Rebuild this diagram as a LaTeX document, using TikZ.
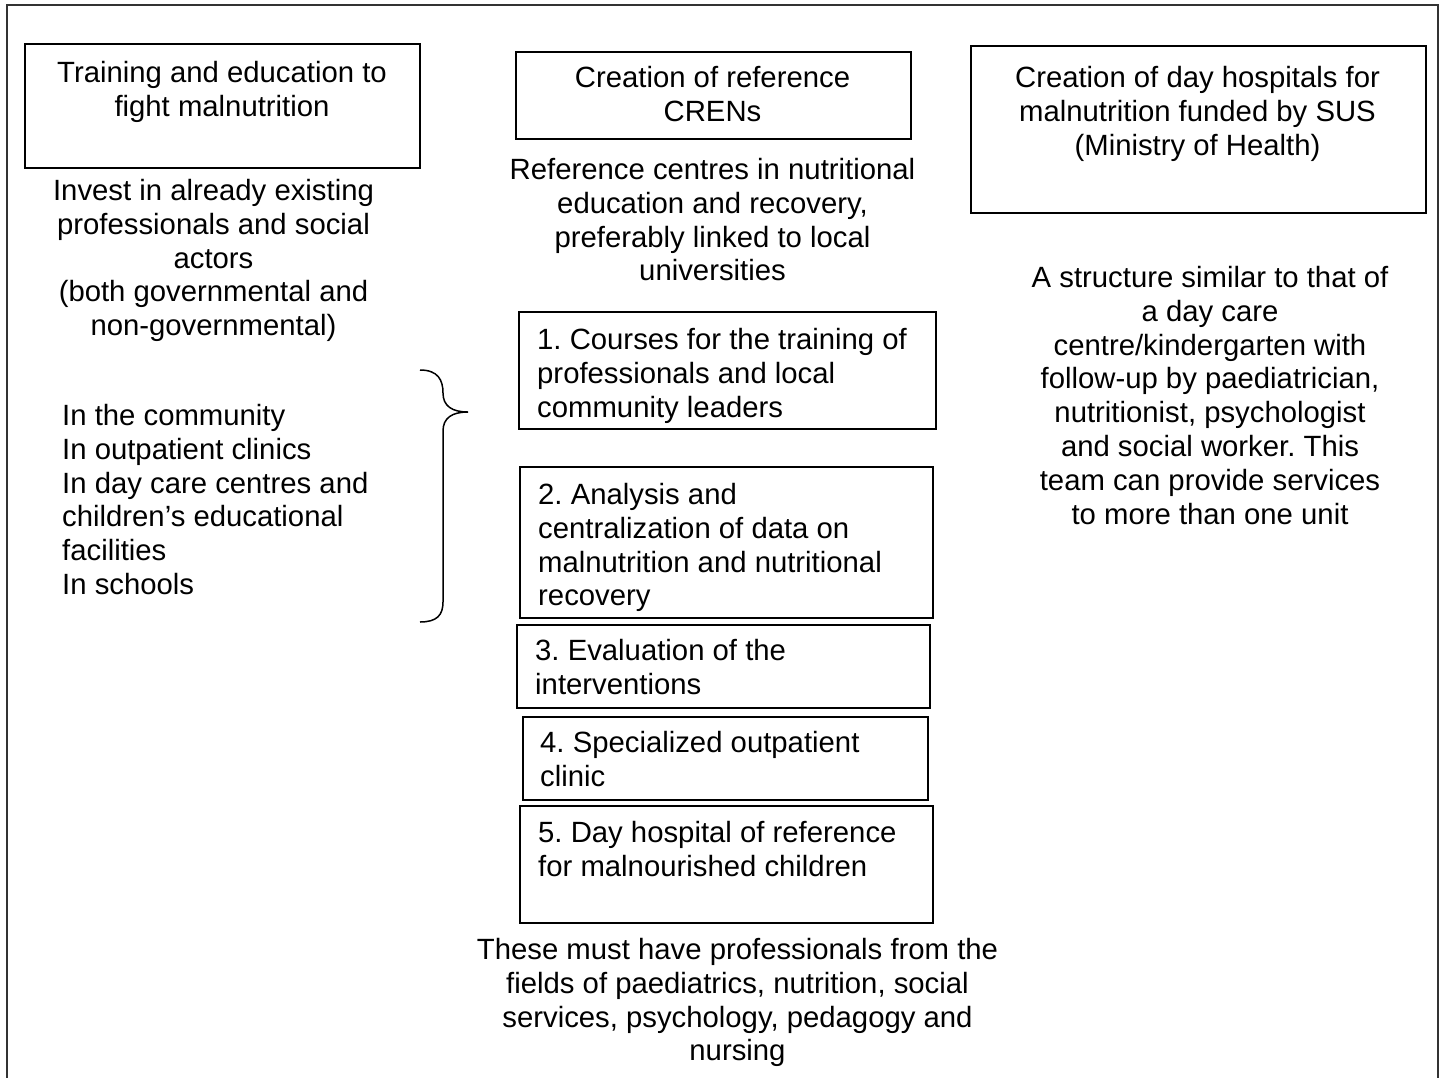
\documentclass[tikz,border=0pt]{standalone}
\usepackage{fontspec}
\setmainfont{Liberation Sans}
\frenchspacing
\begin{document}
\begin{tikzpicture}[x=1pt,y=-1pt,
  txt/.style={inner sep=0pt, font=\fontsize{29.3}{33.8}\selectfont,
              execute at begin node={\rule{0pt}{22pt}}},
  ctr/.style={txt, align=center, anchor=north},
  lft/.style={txt, align=left, anchor=north west},
  box/.style={draw=black, line width=1.6pt, rectangle, anchor=north west, inner sep=0pt},
  frame/.style={draw=black!80, line width=2pt},
  brace/.style={draw=black, line width=1.5pt}
]
\useasboundingbox (0,0) rectangle (1441,1077);

% open outer frame
\begin{scope}
  \clip (0,0) rectangle (1441,1077);
  \draw[frame] (7,1090) -- (7,5) -- (1438,5) -- (1438,1090);
\end{scope}

% ---- left column ----
\node[box, minimum width=395pt, minimum height=124pt] (boxA) at (24,43) {};
\node[ctr] (tA) at (222,61) {Training and education to\\fight malnutrition};
\node[ctr] (invest) at (213.5,179) {Invest in already existing\\professionals and social\\actors\\(both governmental and\\non-governmental)};
\node[lft] (places) at (62,404) {In the community\\In outpatient clinics\\In day care centres and\\children’s educational\\facilities\\In schools};

% curly brace pointing to the list of courses
\coordinate (bTop) at (420,370);
\coordinate (bTip) at (468,412);
\coordinate (bBot) at (420,622);
\draw[brace] (bTop) .. controls (438,370) and (443,380) .. (443,393)
  .. controls (443,406) and (452,412) .. (bTip)
  .. controls (452,412) and (443,418) .. (443,431)
  -- (443,602) .. controls (443,615) and (437,622) .. (bBot);

% ---- middle column ----
\node[box, minimum width=395pt, minimum height=87pt] (boxB) at (515,51) {};
\node[ctr] (tB) at (712.5,66) {Creation of reference\\CRENs};
\node[ctr] (ref) at (712.5,158) {Reference centres in nutritional\\education and recovery,\\preferably linked to local\\universities};

\node[box, minimum width=417pt, minimum height=117pt] (b1) at (518,311) {};
\node[lft] (t1) at (537,328) {1. Courses for the training of\\professionals and local\\community leaders};
\node[box, minimum width=413pt, minimum height=151pt] (b2) at (519,466) {};
\node[lft] (t2) at (538,483) {2. Analysis and\\centralization of data on\\malnutrition and nutritional\\recovery};
\node[box, minimum width=413pt, minimum height=83pt] (b3) at (516,624) {};
\node[lft] (t3) at (535,639) {3. Evaluation of the\\interventions};
\node[box, minimum width=405pt, minimum height=83pt] (b4) at (522,716) {};
\node[lft] (t4) at (540,731) {4. Specialized outpatient\\clinic};
\node[box, minimum width=413pt, minimum height=117pt] (b5) at (519,805) {};
\node[lft] (t5) at (538,821) {5. Day hospital of reference\\for malnourished children};
\node[ctr] (staff) at (737.5,938) {These must have professionals from the\\fields of paediatrics, nutrition, social\\services, psychology, pedagogy and\\nursing};

% ---- right column ----
\node[box, minimum width=455pt, minimum height=167pt] (boxC) at (970,45) {};
\node[ctr] (tC) at (1197.5,66) {Creation of day hospitals for\\malnutrition funded by SUS\\(Ministry of Health)};
\node[ctr] (struct) at (1210,266) {A structure similar to that of\\a day care\\centre/kindergarten with\\follow-up by paediatrician,\\nutritionist, psychologist\\and social worker. This\\team can provide services\\to more than one unit};
\end{tikzpicture}
\end{document}
